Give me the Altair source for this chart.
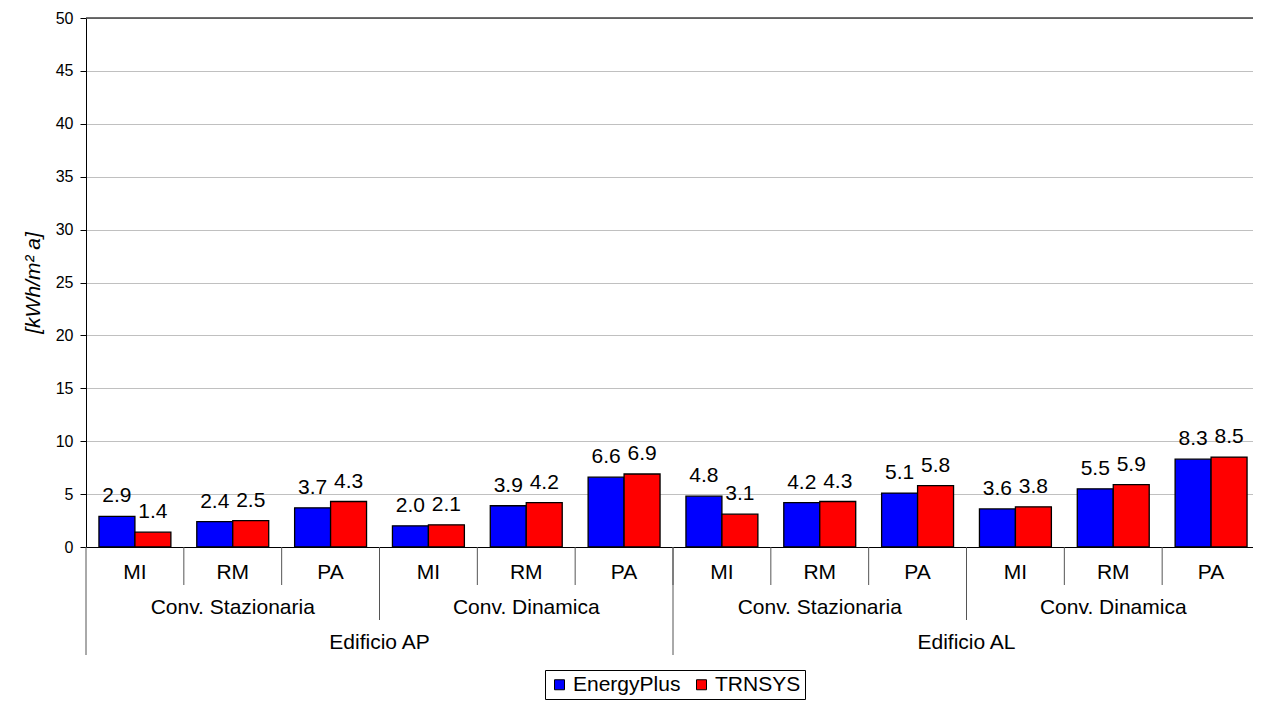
import altair as alt
import pandas as pd

buildings = ["Edificio AP"] * 6 + ["Edificio AL"] * 6
convs = (["Conv. Stazionaria"] * 3 + ["Conv. Dinamica"] * 3) * 2
cities = ["MI", "RM", "PA"] * 4
energyplus = [2.9, 2.4, 3.7, 2.0, 3.9, 6.6, 4.8, 4.2, 5.1, 3.6, 5.5, 8.3]
trnsys = [1.4, 2.5, 4.3, 2.1, 4.2, 6.9, 3.1, 4.3, 5.8, 3.8, 5.9, 8.5]
series = ["EnergyPlus", "TRNSYS"]
colors = ["#0000FF", "#FF0000"]

keys = [f"{b}|{c}|{m}" for b, c, m in zip(buildings, convs, cities)]

rows = []
for i, k in enumerate(keys):
    rows.append({"key": k, "series": series[0], "value": energyplus[i]})
    rows.append({"key": k, "series": series[1], "value": trnsys[i]})
bars = pd.DataFrame(rows)

groups = pd.DataFrame({"key": keys, "building": buildings, "conv": convs, "city": cities, "idx": list(range(12))})

FONT = "Liberation Sans"
BIG = 21
W, H = 1167, 529
XR = 1174

xscale = alt.Scale(domain=keys, paddingInner=0, paddingOuter=0, range=[0, XR])
xenc = alt.X("key:N", scale=xscale, sort=keys,
             axis=alt.Axis(title=None, labels=False, ticks=False, domain=True,
                           domainColor="#000000", domainWidth=1, grid=False))
yscale = alt.Scale(domain=[0, 50], nice=False)
xoff = alt.XOffset("series:N", sort=series,
                   scale=alt.Scale(paddingInner=0, paddingOuter=0.36))

base = alt.Chart(bars)

bar = base.mark_bar(stroke="#000000", strokeWidth=1.3).encode(
    x=xenc,
    xOffset=xoff,
    y=alt.Y("value:Q", scale=yscale,
            axis=alt.Axis(title="[kWh/m² a]", titleFont=FONT, titleFontSize=BIG,
                          titleFontStyle="italic", titleFontWeight="normal",
                          titleColor="#000000", titlePadding=12,
                          values=list(range(0, 51, 5)), labelFont=FONT,
                          labelFontSize=16, labelColor="#000000", labelPadding=7,
                          tickColor="#000000", tickSize=6, domainColor="#000000",
                          gridColor="#c0c0c0", gridWidth=1)),
    color=alt.Color("series:N", sort=series,
                    scale=alt.Scale(domain=series, range=colors),
                    legend=alt.Legend(title=None, orient="none", legendX=459, legendY=652,
                                      direction="horizontal", symbolType="square",
                                      symbolSize=100, symbolStrokeColor="#000000",
                                      symbolStrokeWidth=1, labelFont=FONT,
                                      labelFontSize=BIG, labelColor="#000000",
                                      labelOffset=3, columnPadding=10, padding=4,
                                      strokeColor="#000000", fillColor="#ffffff",
                                      cornerRadius=0)),
)

labels = base.mark_text(font=FONT, fontSize=BIG, color="#000000", baseline="alphabetic",
                        dy=-14).encode(
    x=xenc,
    xOffset=xoff,
    y=alt.Y("value:Q", scale=yscale),
    text=alt.Text("value:Q", format=".1f"),
)

top_line = alt.Chart(pd.DataFrame({"v": [50]})).mark_rule(color="#404040", strokeWidth=1.3).encode(
    y=alt.Y("v:Q", scale=yscale)
)

gbase = alt.Chart(groups)
xsep = alt.X("key:N", scale=xscale, sort=keys, bandPosition=0)
xmid = alt.X("key:N", scale=xscale, sort=keys, bandPosition=0.5)

sep1 = gbase.transform_filter("datum.idx > 0").mark_rule(color="#555555").encode(
    x=xsep, y=alt.value(H), y2=alt.value(H + 38))
sep2 = gbase.transform_filter("datum.idx == 3 || datum.idx == 9").mark_rule(color="#555555").encode(
    x=xsep, y=alt.value(H), y2=alt.value(H + 73))
sep3 = gbase.transform_filter("datum.idx == 0 || datum.idx == 6").mark_rule(color="#555555").encode(
    x=xsep, y=alt.value(H), y2=alt.value(H + 108))

txt1 = gbase.mark_text(font=FONT, fontSize=BIG, color="#000000", baseline="alphabetic").encode(
    x=xmid, y=alt.value(H + 32), text="city:N")
txt2 = gbase.transform_filter("datum.city == 'RM'").mark_text(
    font=FONT, fontSize=BIG, color="#000000", baseline="alphabetic").encode(
    x=xmid, y=alt.value(H + 67), text="conv:N")
txt3 = gbase.transform_filter("datum.idx == 3 || datum.idx == 9").mark_text(
    font=FONT, fontSize=BIG, color="#000000", baseline="alphabetic").encode(
    x=xsep, y=alt.value(H + 102), text="building:N")

chart = alt.layer(bar, labels, top_line, sep1, sep2, sep3, txt1, txt2, txt3).properties(
    width=W, height=H,
    autosize=alt.AutoSizeParams(type="none"),
    padding={"left": 78, "top": 10, "right": 0, "bottom": 153},
).configure_view(stroke=None).configure(background="#ffffff")

chart.save("out.html", embed_options={"renderer": "svg", "actions": False})
